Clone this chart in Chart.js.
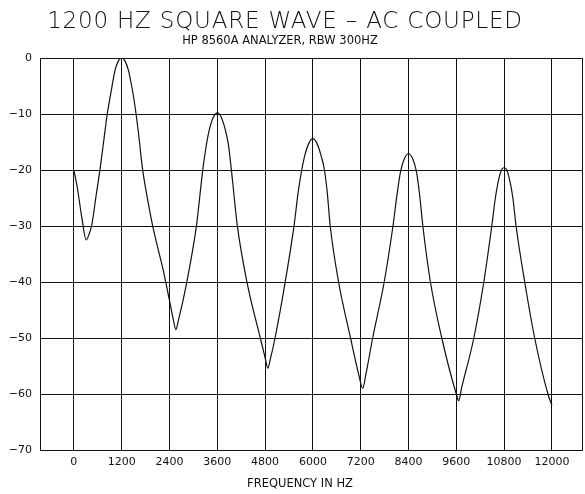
<!DOCTYPE html>
<html>
<head>
<meta charset="utf-8">
<script src="https://cdn.jsdelivr.net/npm/chart.js@4.4.1/dist/chart.umd.min.js"></script>
<style>
  html, body { margin: 0; padding: 0; background: #fff; }
  #wrap { position: relative; width: 585px; height: 494px; }
  .lbl { position: absolute; color: #111; white-space: nowrap; transform: translateX(-50%); }
  #title { left: 285px; top: 7px; font: 200 23px "DejaVu Sans", sans-serif; letter-spacing: 0.8px; }
  #subtitle { left: 280px; top: 33px; font: 11.5px "DejaVu Sans", sans-serif; }
  #xtitle { left: 300px; top: 476px; font: 11.5px "DejaVu Sans", sans-serif; }
</style>
</head>
<body>
<div id="wrap">
  <canvas id="chart" width="585" height="494"></canvas>
  <div class="lbl" id="title">1200 HZ SQUARE WAVE &ndash; AC COUPLED</div>
  <div class="lbl" id="subtitle">HP 8560A ANALYZER, RBW 300HZ</div>
  <div class="lbl" id="xtitle">FREQUENCY IN HZ</div>
</div>
<script>
// frequencies (Hz) and levels (dB)
var freqs = [0, 90, 200, 310, 380, 450, 560, 660, 750, 830, 930, 1030, 1110, 1200,
    1290, 1370, 1440, 1520, 1620, 1722, 1850, 1973, 2110, 2240, 2400, 2490, 2560, 2620,
    2830, 3080, 3160, 3240, 3320, 3400, 3500, 3600, 3700, 3800, 3880, 3950, 4020, 4100,
    4350, 4680, 4800, 4870, 4930, 5050, 5300, 5530, 5630, 5720, 5800, 5900, 6000,
    6100, 6200, 6290, 6360, 6435, 6645, 6945, 7150, 7250, 7330, 7500, 7790, 8010,
    8110, 8200, 8300, 8400, 8500, 8600, 8680, 8760, 8950, 9235, 9600, 9660, 9730,
    10040, 10290, 10490, 10580, 10670, 10740, 10800, 10860, 10930, 11020, 11100,
    11317, 11567, 11900, 12000];
var levels = [-20, -23.3, -28.5, -32.5, -31.5, -29.8, -24.5, -19.7, -14.8, -10.4, -6.2, -2.3, -0.6, 0,
    -0.6, -2.2, -4.6, -7.9, -13.3, -19.7, -25.2, -29.8, -34, -37.8, -43.3, -46.5, -48.5, -47,
    -40.2, -29.8, -24.8, -19.7, -15.8, -12.8, -10.6, -9.8, -10.6, -12.8, -15.5, -19.7, -24.5, -29.8,
    -40.2, -50, -53.5, -55.4, -53.8, -50, -40.2, -29.8, -24, -20, -17.3, -15.2, -14.4,
    -15.2, -17.3, -20, -24, -30, -40, -50, -56.5, -59, -56.5, -50, -40, -30,
    -24.5, -20.3, -17.9, -17.1, -17.9, -20.3, -24.5, -30, -40, -50, -60, -61.2, -59,
    -50, -40, -30, -25, -21.5, -19.9, -19.6, -19.9, -21.5, -25, -30,
    -40, -50, -60, -62];

var xTicks = [0, 1200, 2400, 3600, 4800, 6000, 7200, 8400, 9600, 10800, 12000];
var yTicks = [0, -10, -20, -30, -40, -50, -60, -70];

var points = freqs.map(function (f, i) { return { x: f, y: levels[i] }; });

var tickFont = { family: 'DejaVu Sans', size: 11 };

// outline of the plot area
var frame = {
    id: 'frame',
    afterDraw: function (chart) {
        var a = chart.chartArea, ctx = chart.ctx;
        ctx.save();
        ctx.strokeStyle = '#111';
        ctx.lineWidth = 1;
        ctx.strokeRect(a.left + 0.5, a.top + 0.5, a.right - a.left - 1, a.bottom - a.top);
        ctx.restore();
    }
};

new Chart(document.getElementById('chart'), {
    type: 'line',
    data: {
        datasets: [{
            data: points,
            borderColor: '#111',
            borderWidth: 1.2,
            pointRadius: 0,
            fill: false,
            cubicInterpolationMode: 'monotone'
        }]
    },
    options: {
        responsive: false,
        animation: false,
        layout: { padding: { top: 58, right: 2, bottom: 0, left: 0 } },
        plugins: { legend: { display: false }, tooltip: { enabled: false } },
        scales: {
            x: {
                type: 'linear',
                min: -850,
                max: 12780,
                afterBuildTicks: function (s) { s.ticks = xTicks.map(function (v) { return { value: v }; }); },
                afterFit: function (s) { s.height = 44; },
                grid: { color: '#111', lineWidth: 1, drawTicks: false },
                border: { display: false },
                ticks: {
                    color: '#111', font: tickFont, padding: 6, maxRotation: 0, autoSkip: false,
                    callback: function (v) { return String(v); }
                }
            },
            y: {
                min: -70,
                max: 0,
                afterBuildTicks: function (s) { s.ticks = yTicks.map(function (v) { return { value: v }; }); },
                afterFit: function (s) { s.width = 40; },
                grid: { color: '#111', lineWidth: 1, drawTicks: false },
                border: { display: false },
                ticks: {
                    color: '#111', font: tickFont, padding: 8,
                    callback: function (v) { return v < 0 ? '\u2212' + Math.abs(v) : String(v); }
                }
            }
        }
    },
    plugins: [frame]
});
</script>
</body>
</html>
